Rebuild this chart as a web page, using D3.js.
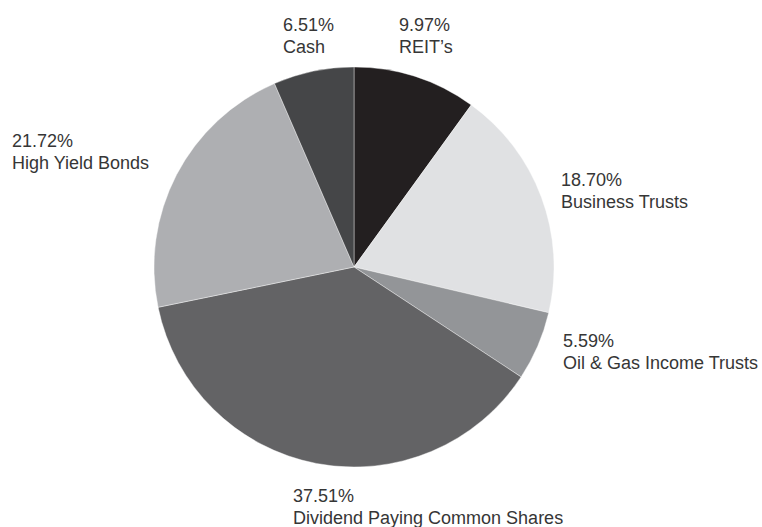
<!DOCTYPE html>
<html>
<head>
<meta charset="utf-8">
<script src="https://cdn.jsdelivr.net/npm/d3@7"></script>
<style>
  body { margin: 0; background: #fff; }
  text { font-family: "Liberation Sans", Arial, sans-serif; font-size: 18px; fill: #363636; }
</style>
</head>
<body>
<div id="pie"></div>
<script>
// chart data
const categories = ["REIT\u2019s", "Business Trusts", "Oil & Gas Income Trusts",
                    "Dividend Paying Common Shares", "High Yield Bonds", "Cash"];
const values = [9.97, 18.70, 5.59, 37.51, 21.72, 6.51];
const pctLabels = ["9.97%", "18.70%", "5.59%", "37.51%", "21.72%", "6.51%"];
const colors = ["#231f20", "#e0e1e3", "#939598", "#636365", "#aeafb2", "#454648"];

// where each label sits (left edge, first baseline)
const labelPos = [[399, 31], [561, 186], [563, 347], [293, 502], [12, 147], [283, 31]];

const width = 762;
const height = 527;
const cx = 354, cy = 267, radius = 200;

const svg = d3.select("#pie")
    .append("svg")
    .attr("width", width)
    .attr("height", height);

const slices = categories.map((c, i) => ({ name: c, value: values[i], pct: pctLabels[i], color: colors[i] }));

const pie = d3.pie().sort(null).value(d => d.value);
const arc = d3.arc().innerRadius(0).outerRadius(radius);

svg.append("g")
    .attr("transform", `translate(${cx},${cy})`)
    .selectAll("path")
    .data(pie(slices))
    .enter()
    .append("path")
    .attr("d", arc)
    .attr("fill", d => d.data.color)
    .attr("stroke", "#fff")
    .attr("stroke-width", 0.4);

const labels = svg.selectAll("g.label")
    .data(slices)
    .enter()
    .append("g")
    .attr("class", "label")
    .attr("transform", (d, i) => `translate(${labelPos[i][0]},${labelPos[i][1]})`);

labels.append("text").text(d => d.pct);
labels.append("text").attr("y", 22).text(d => d.name);
</script>
</body>
</html>
